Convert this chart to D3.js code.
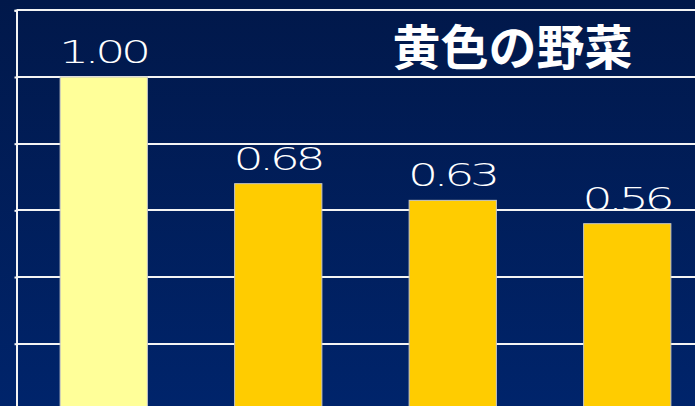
<!DOCTYPE html>
<html>
<head>
<meta charset="utf-8">
<script src="https://cdn.jsdelivr.net/npm/d3@7"></script>
<style>
  html, body { margin: 0; padding: 0; background: #011a4c; overflow: hidden; }
  svg { display: block; }
</style>
</head>
<body>
<svg id="chart" width="695" height="406"></svg>
<script>
// Relative values of the yellow vegetables
const categories = ["A", "B", "C", "D"];
const values = [1.00, 0.68, 0.63, 0.56];
const valueLabels = ["1.00", "0.68", "0.63", "0.56"];
const gridTicks = [0, 0.2, 0.4, 0.6, 0.8, 1.0, 1.2];
const title = "黄色の野菜";

const W = 695, H = 406;
const svg = d3.select("#chart");

// background gradient
const defs = svg.append("defs");
const grad = defs.append("linearGradient")
  .attr("id", "bg").attr("x1", 0).attr("y1", 0).attr("x2", 0).attr("y2", 1);
grad.append("stop").attr("offset", "0%").attr("stop-color", "#01184a");
grad.append("stop").attr("offset", "100%").attr("stop-color", "#00246b");
svg.append("rect").attr("width", W).attr("height", H).attr("fill", "url(#bg)");

const plotLeft = 16.5;
const x = d3.scaleBand()
  .domain(categories)
  .range([plotLeft, plotLeft + 4 * 174.5])
  .paddingInner(0.5)
  .paddingOuter(0.25);

const y = d3.scaleLinear().domain([0, 1.2]).range([410.4, 10.3]);

// value labels, drawn with a wide, tightly set face
const sx = 1.48;
svg.append("g").selectAll("text")
  .data(values)
  .join("text")
  .attr("transform", (d, i) =>
    `translate(${x(categories[i]) + x.bandwidth() / 2 - 1},${y(d) - 14}) scale(${sx},1)`)
  .attr("text-anchor", "middle")
  .attr("fill", "#ffffff")
  .attr("font-family", "'DejaVu Sans', sans-serif")
  .attr("font-size", 32)
  .attr("font-weight", 200)
  .attr("letter-spacing", -3)
  .text((d, i) => valueLabels[i]);

// horizontal gridlines
svg.append("g").selectAll("line")
  .data(gridTicks.filter(t => t > 0))
  .join("line")
  .attr("x1", plotLeft).attr("x2", W)
  .attr("y1", d => Math.round(y(d))).attr("y2", d => Math.round(y(d)))
  .attr("stroke", "#f4f4f4")
  .attr("stroke-width", 2);

// left axis
const axis = d3.axisLeft(y).tickValues(gridTicks).tickSize(2).tickFormat("");
const ag = svg.append("g").attr("transform", `translate(${plotLeft},0)`).call(axis);
ag.selectAll("path, line").attr("stroke", "#f4f4f4").attr("stroke-width", 2);

// bars
svg.append("g").selectAll("rect")
  .data(values)
  .join("rect")
  .attr("x", (d, i) => x(categories[i]))
  .attr("y", d => y(d))
  .attr("width", x.bandwidth())
  .attr("height", d => y(0) - y(d))
  .attr("fill", (d, i) => i === 0 ? "#ffff99" : "#ffcc00")
  .attr("stroke", "#c8c8c8")
  .attr("stroke-width", 1);

// title
svg.append("text")
  .attr("x", 512.5)
  .attr("y", 44)
  .attr("text-anchor", "middle")
  .attr("dominant-baseline", "central")
  .attr("fill", "#ffffff")
  .attr("font-family", "'Noto Sans CJK JP', sans-serif")
  .attr("font-weight", 700)
  .attr("font-size", 48)
  .text(title);
</script>
</body>
</html>
